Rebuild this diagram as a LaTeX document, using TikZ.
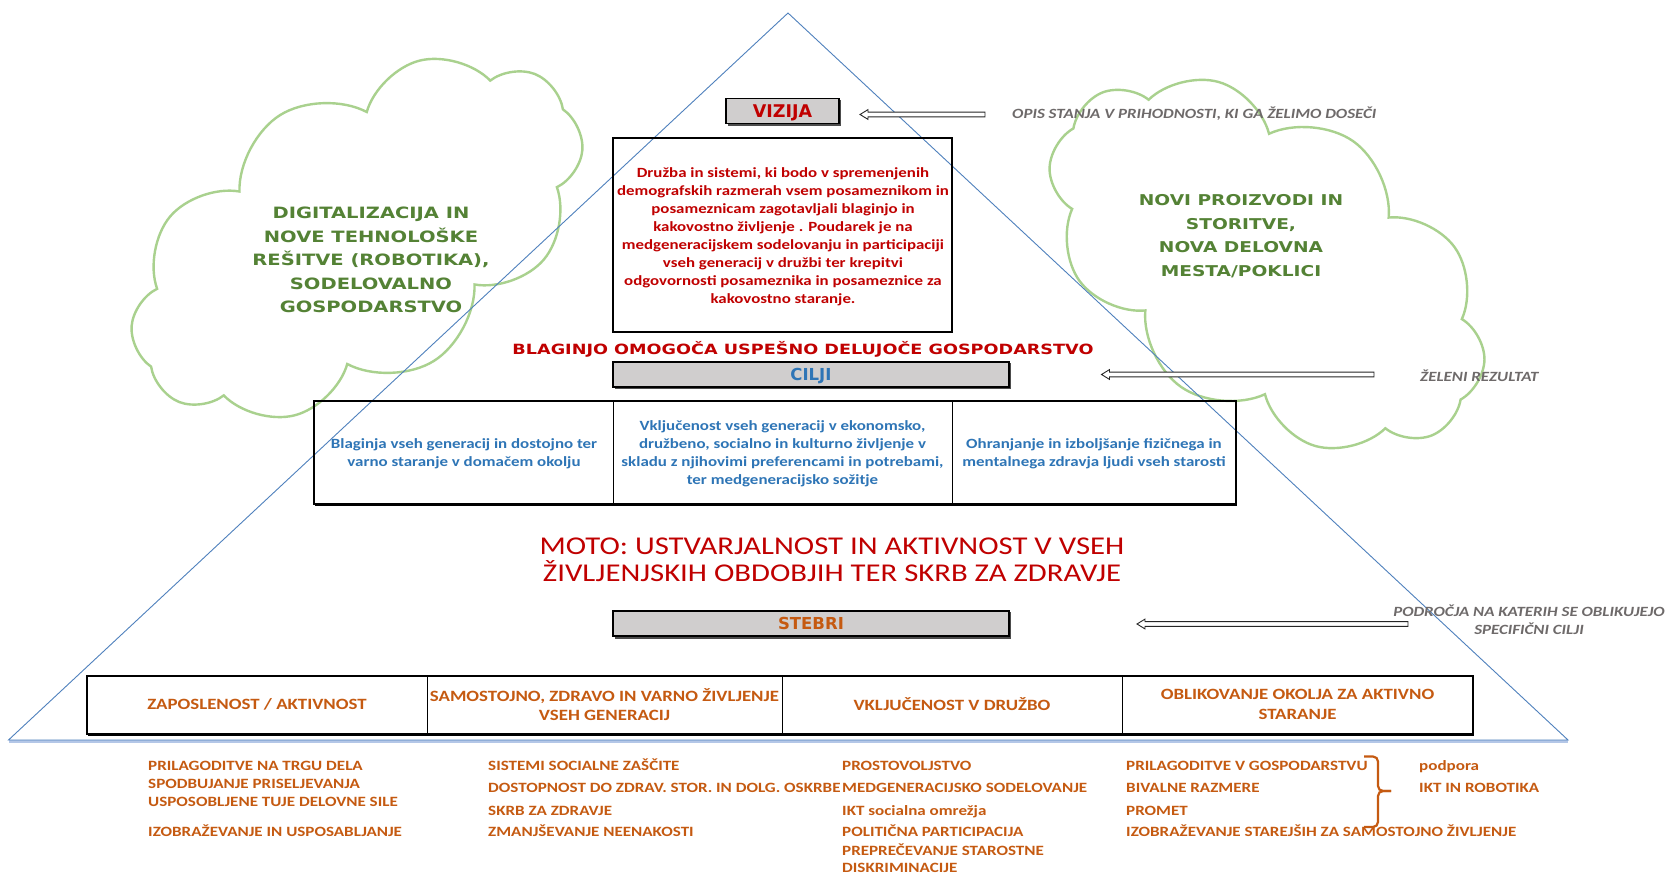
\documentclass[tikz,border=0pt]{standalone}
\usepackage{fontspec}
\setmainfont{Carlito}[FakeStretch=1.2]
\newfontfamily\comicf{DejaVu Sans}[FakeStretch=1.25]
\newfontfamily\boxf{DejaVu Sans}
\usetikzlibrary{shapes.symbols,calc}
\definecolor{redt}{RGB}{192,0,0}
\definecolor{bluet}{RGB}{46,117,182}
\definecolor{oranget}{RGB}{197,90,17}
\definecolor{grayt}{RGB}{110,106,106}
\definecolor{greent}{RGB}{84,130,53}
\definecolor{cloudg}{RGB}{169,209,142}
\definecolor{trib}{RGB}{79,129,189}
\definecolor{basesh}{RGB}{180,199,231}
\definecolor{boxg}{RGB}{208,206,206}
\newcommand\myarrow[2]{%
  \draw[arrowst] (#1) -- ($(#1)+(8,-4.9)$) -- ($(#1)+(8,-2.4)$) -- ($(#2)+(0,-2.4)$)
   -- ($(#2)+(0,2.4)$) -- ($(#1)+(8,2.4)$) -- ($(#1)+(8,4.9)$) -- cycle;}
\tikzset{
  cloudy/.style={cloud, cloud puffs=10, cloud puff arc=120, cloud ignores aspect,
    draw=cloudg, line width=2.4pt, inner sep=0pt},
  cloudtxt/.style={text=greent, align=center},
  vis/.style={text=redt, align=center, font=\fontsize{14.05}{18.05}\selectfont\bfseries},
  goal/.style={text=bluet, align=center, font=\fontsize{14.1}{18}\selectfont\bfseries},
  pil/.style={text=oranget, align=center, font=\fontsize{15.7}{19.5}\selectfont\bfseries},
  lst/.style={text=oranget, anchor=base west, inner sep=0pt, font=\fontsize{14.2}{17}\selectfont\bfseries},
  lbl/.style={text=grayt, inner sep=0pt, font=\fontsize{14.1}{18}\selectfont\bfseries\itshape},
  graybox/.style={fill=boxg, draw=black, line width=1.3pt, inner sep=0pt,
    text height=12pt, text depth=0pt,
    font=\boxf\bfseries\fontsize{16.5}{20}\selectfont},
  arrowst/.style={draw=black!85, fill=white, line width=0.9pt, line join=miter},
  tri/.style={draw=trib, line width=0.9pt},
}
\begin{document}
\begin{tikzpicture}[x=1pt,y=-1pt]
\fill[white] (0,0) rectangle (1665,874);
\useasboundingbox (0,0) rectangle (1665,874);

% clouds
\node[cloudy, minimum width=500pt, minimum height=290pt, rotate=32] (lcloud) at (357,238) {};
\node[cloudy, minimum width=490pt, minimum height=300pt, rotate=-35] (rcloud) at (1267,264) {};
\node[cloudtxt, font=\comicf\bfseries\fontsize{15.6}{23.6}\selectfont] (lctext) at (371,260)
  {DIGITALIZACIJA IN\\NOVE TEHNOLOŠKE\\REŠITVE (ROBOTIKA),\\SODELOVALNO\\GOSPODARSTVO};
\node[cloudtxt, font=\comicf\bfseries\fontsize{14.9}{23.6}\selectfont] (rctext) at (1241,236)
  {NOVI PROIZVODI IN\\STORITVE,\\NOVA DELOVNA\\MESTA/POKLICI};

% triangle
\coordinate (apex) at (788,13);
\coordinate (bl) at (8.5,740);
\coordinate (br) at (1568,740);
\draw[basesh, line width=3pt] ($(bl)+(0,1.5)$) -- ($(br)+(0,1.5)$);
\draw[tri] (apex) -- (bl) -- (br) -- cycle;

% VIZIJA
\fill[black!70] (727.5,100) rectangle (840.5,126);
\node[graybox, minimum width=113pt, minimum height=25pt, text=redt,
  text height=12.8pt, font=\boxf\bfseries\fontsize{17.5}{20}\selectfont] (vizija) at (782.5,111.3) {VIZIJA};
\coordinate (a1tip) at (860,114.5);
\coordinate (a1tail) at (985,114.5);
\myarrow{a1tip}{a1tail}
\node[lbl, anchor=west] (opis) at (1012,113.6) {OPIS STANJA V PRIHODNOSTI, KI GA ŽELIMO DOSEČI};

% vision box
\draw[black, line width=1.2pt] (613,138) rectangle (952,332);
\node[vis] (vistxt) at (783,236.5) {Družba in sistemi, ki bodo v spremenjenih\\demografskih razmerah vsem posameznikom in\\posameznicam zagotavljali blaginjo in\\kakovostno življenje . Poudarek je na\\medgeneracijskem sodelovanju in participaciji\\vseh generacij v družbi ter krepitvi\\odgovornosti posameznika in posameznice za\\kakovostno staranje.};

% blaginjo
\node[text=redt, font=\comicf\bfseries\fontsize{14.1}{18}\selectfont] (blag) at (803,349.4) {BLAGINJO OMOGOČA USPEŠNO DELUJOČE GOSPODARSTVO};

% CILJI
\fill[black!70] (614.5,363.5) rectangle (1010.5,389);
\node[graybox, minimum width=396pt, minimum height=25pt, text=bluet] (cilji) at (811,374.5) {CILJI};
\coordinate (a2tip) at (1101.5,374.5);
\coordinate (a2tail) at (1374,374.5);
\myarrow{a2tip}{a2tail}
\node[lbl, anchor=west] (zeleni) at (1420,376) {ŽELENI REZULTAT};

% goals table
\draw[black, line width=1pt] (613,401) -- (613,504) (952.5,401) -- (952.5,504);
\draw[black, line width=2pt] (314,401) rectangle (1236,504);
\draw[black, line width=1.5pt] (315,505.5) -- (1237,505.5);
\node[goal] (g1) at (464,454) {Blaginja vseh generacij in dostojno ter\\varno staranje v domačem okolju};
\node[goal] (g2) at (782.5,454) {Vključenost vseh generacij v ekonomsko,\\družbeno, socialno in kulturno življenje v\\skladu z njihovimi preferencami in potrebami,\\ter medgeneracijsko sožitje};
\node[goal] (g3) at (1094,454) {Ohranjanje in izboljšanje fizičnega in\\mentalnega zdravja ljudi vseh starosti};

% MOTO
\node[text=redt, align=center, font=\fontsize{25.6}{27}\selectfont] (moto) at (832,559.6)
  {MOTO: USTVARJALNOST IN AKTIVNOST V VSEH\\ŽIVLJENJSKIH OBDOBJIH TER SKRB ZA ZDRAVJE};

% STEBRI
\fill[black!70] (614.5,612) rectangle (1010.5,638.5);
\node[graybox, minimum width=396pt, minimum height=25pt, text=oranget] (stebri) at (811,623.5) {STEBRI};
\coordinate (a3tip) at (1137,624);
\coordinate (a3tail) at (1408,624);
\myarrow{a3tip}{a3tail}
\node[lbl, align=center] (podr) at (1529,619.6) {PODROČJA NA KATERIH SE OBLIKUJEJO\\SPECIFIČNI CILJI};

% pillars table
\draw[black, line width=1pt] (427,676) -- (427,734) (782,676) -- (782,734) (1122,676) -- (1122,734);
\draw[black, line width=1.5pt] (87,676) rectangle (1473,734);
\draw[black, line width=1.5pt] (88,735.5) -- (1474,735.5);
\node[pil] (p1) at (257,704.5) {ZAPOSLENOST / AKTIVNOST};
\node[pil] (p2) at (604.5,704.5) {SAMOSTOJNO, ZDRAVO IN VARNO ŽIVLJENJE\\VSEH GENERACIJ};
\node[pil] (p3) at (952,704.5) {VKLJUČENOST V DRUŽBO};
\node[pil] (p4) at (1297.5,704.5) {OBLIKOVANJE OKOLJA ZA AKTIVNO\\STARANJE};

% lists
\node[lst] (l11) at (148,770.1) {PRILAGODITVE NA TRGU DELA};
\node[lst] (l12) at (148,788.8) {SPODBUJANJE PRISELJEVANJA};
\node[lst] (l13) at (148,806.6) {USPOSOBLJENE TUJE DELOVNE SILE};
\node[lst] (l14) at (148,836.6) {IZOBRAŽEVANJE IN USPOSABLJANJE};
\node[lst] (l21) at (488,770.1) {SISTEMI SOCIALNE ZAŠČITE};
\node[lst] (l22) at (488,792.3) {DOSTOPNOST DO ZDRAV. STOR. IN DOLG. OSKRBE};
\node[lst] (l23) at (488,815.6) {SKRB ZA ZDRAVJE};
\node[lst] (l24) at (488,836.6) {ZMANJŠEVANJE NEENAKOSTI};
\node[lst] (l31) at (842,770.1) {PROSTOVOLJSTVO};
\node[lst] (l32) at (842,792.3) {MEDGENERACIJSKO SODELOVANJE};
\node[lst] (l33) at (842,815.6) {IKT socialna omrežja};
\node[lst] (l34) at (842,836.6) {POLITIČNA PARTICIPACIJA};
\node[lst] (l35) at (842,855.6) {PREPREČEVANJE STAROSTNE};
\node[lst] (l36) at (842,872.9) {DISKRIMINACIJE};
\node[lst] (l41) at (1126,770.1) {PRILAGODITVE V GOSPODARSTVU};
\node[lst] (l42) at (1126,792.3) {BIVALNE RAZMERE};
\node[lst] (l43) at (1126,815.6) {PROMET};
\node[lst] (l44) at (1126,836.6) {IZOBRAŽEVANJE STAREJŠIH ZA SAMOSTOJNO ŽIVLJENJE};
\node[lst] (l51) at (1419,770.1) {podpora};
\node[lst] (l52) at (1419,792.3) {IKT IN ROBOTIKA};

% brace
\draw[oranget, line width=2.2pt, rounded corners=5pt]
  (1364,756.5) -- (1378,756.5) -- (1378,791) -- (1391,791);
\draw[oranget, line width=2.2pt, rounded corners=5pt]
  (1391,791) -- (1378,791) -- (1378,827) -- (1364,827);
\end{tikzpicture}
\end{document}
